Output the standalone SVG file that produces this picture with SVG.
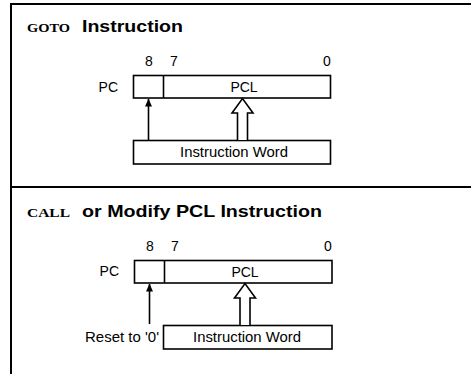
<svg xmlns="http://www.w3.org/2000/svg" width="471" height="374" viewBox="0 0 471 374">
<style>
.frame{stroke:#000;stroke-width:2;fill:none}
.box{fill:#fff;stroke:#000;stroke-width:1.6}
.lbl{font-family:"Liberation Sans",Arial,sans-serif;font-size:14px;fill:#000}
.sc{font-family:"Liberation Serif","Times New Roman",serif;font-size:12px;font-weight:bold;fill:#000}
.ttl{font-family:"Liberation Sans",Arial,sans-serif;font-size:17px;font-weight:bold;fill:#000}
.solid{stroke:#000;stroke-width:1.6;fill:none}
.hollow{fill:#fff;stroke:#000;stroke-width:1.6;stroke-linejoin:miter}
</style>
<defs>
<marker id="ah" markerWidth="8" markerHeight="10" refX="7.5" refY="3.5" orient="auto" markerUnits="userSpaceOnUse" viewBox="0 0 8 7">
<path d="M0,0 L8,3.5 L0,7 Z" fill="#000"/>
</marker>
</defs>
<rect width="471" height="374" fill="#fff"/>
<g id="frame">
<line class="frame" x1="11" y1="4" x2="471" y2="4"/>
<line class="frame" x1="11" y1="187" x2="471" y2="187"/>
<line class="frame" x1="11" y1="3" x2="11" y2="374"/>
</g>
<g id="title1">
<text class="sc" x="27" y="32" textLength="43" lengthAdjust="spacingAndGlyphs">GOTO</text>
<text class="ttl" x="82" y="32" textLength="101" lengthAdjust="spacingAndGlyphs">Instruction</text>
</g>
<g id="pc1">
<text class="lbl" x="118" y="92" text-anchor="end">PC</text>
<text class="lbl" x="149" y="66" text-anchor="middle">8</text>
<text class="lbl" x="174" y="66" text-anchor="middle">7</text>
<text class="lbl" x="327" y="66" text-anchor="middle">0</text>
<rect class="box" x="133.5" y="75.5" width="197" height="22.5"/>
<line class="solid" x1="163.5" y1="75.5" x2="163.5" y2="98"/>
<text class="lbl" x="244" y="92" text-anchor="middle">PCL</text>
</g>
<g id="iw1">
<rect class="box" x="133.5" y="140.5" width="197" height="23.5"/>
<text class="lbl" x="234" y="157" text-anchor="middle" textLength="108" lengthAdjust="spacingAndGlyphs">Instruction Word</text>
</g>
<g id="title2">
<text class="sc" x="27" y="217" textLength="43" lengthAdjust="spacingAndGlyphs">CALL</text>
<text class="ttl" x="82" y="217" textLength="240" lengthAdjust="spacingAndGlyphs">or Modify PCL Instruction</text>
</g>
<g id="pc2">
<text class="lbl" x="119" y="276" text-anchor="end">PC</text>
<text class="lbl" x="150" y="251" text-anchor="middle">8</text>
<text class="lbl" x="175" y="251" text-anchor="middle">7</text>
<text class="lbl" x="328" y="251" text-anchor="middle">0</text>
<rect class="box" x="134.5" y="260.5" width="197.5" height="22.5"/>
<line class="solid" x1="164.5" y1="260.5" x2="164.5" y2="283"/>
<text class="lbl" x="245" y="277" text-anchor="middle">PCL</text>
</g>
<g id="reset">
<text class="lbl" x="159" y="342" text-anchor="end" textLength="74" lengthAdjust="spacingAndGlyphs">Reset to '0'</text>
</g>
<g id="iw2">
<rect class="box" x="163.5" y="325.5" width="168.5" height="23.5"/>
<text class="lbl" x="247" y="342" text-anchor="middle" textLength="108" lengthAdjust="spacingAndGlyphs">Instruction Word</text>
</g>
<g id="connectors">
<line class="solid" x1="148.5" y1="140" x2="148.5" y2="99" marker-end="url(#ah)"/>
<path class="hollow" d="M237.5,140 L237.5,113 L232,113 L242.5,98.5 L253,113 L247.5,113 L247.5,140"/>
<line class="solid" x1="149.5" y1="324" x2="149.5" y2="284" marker-end="url(#ah)"/>
<path class="hollow" d="M240,325 L240,298 L234.5,298 L245,283.5 L255.5,298 L250,298 L250,325"/>
</g>
</svg>
